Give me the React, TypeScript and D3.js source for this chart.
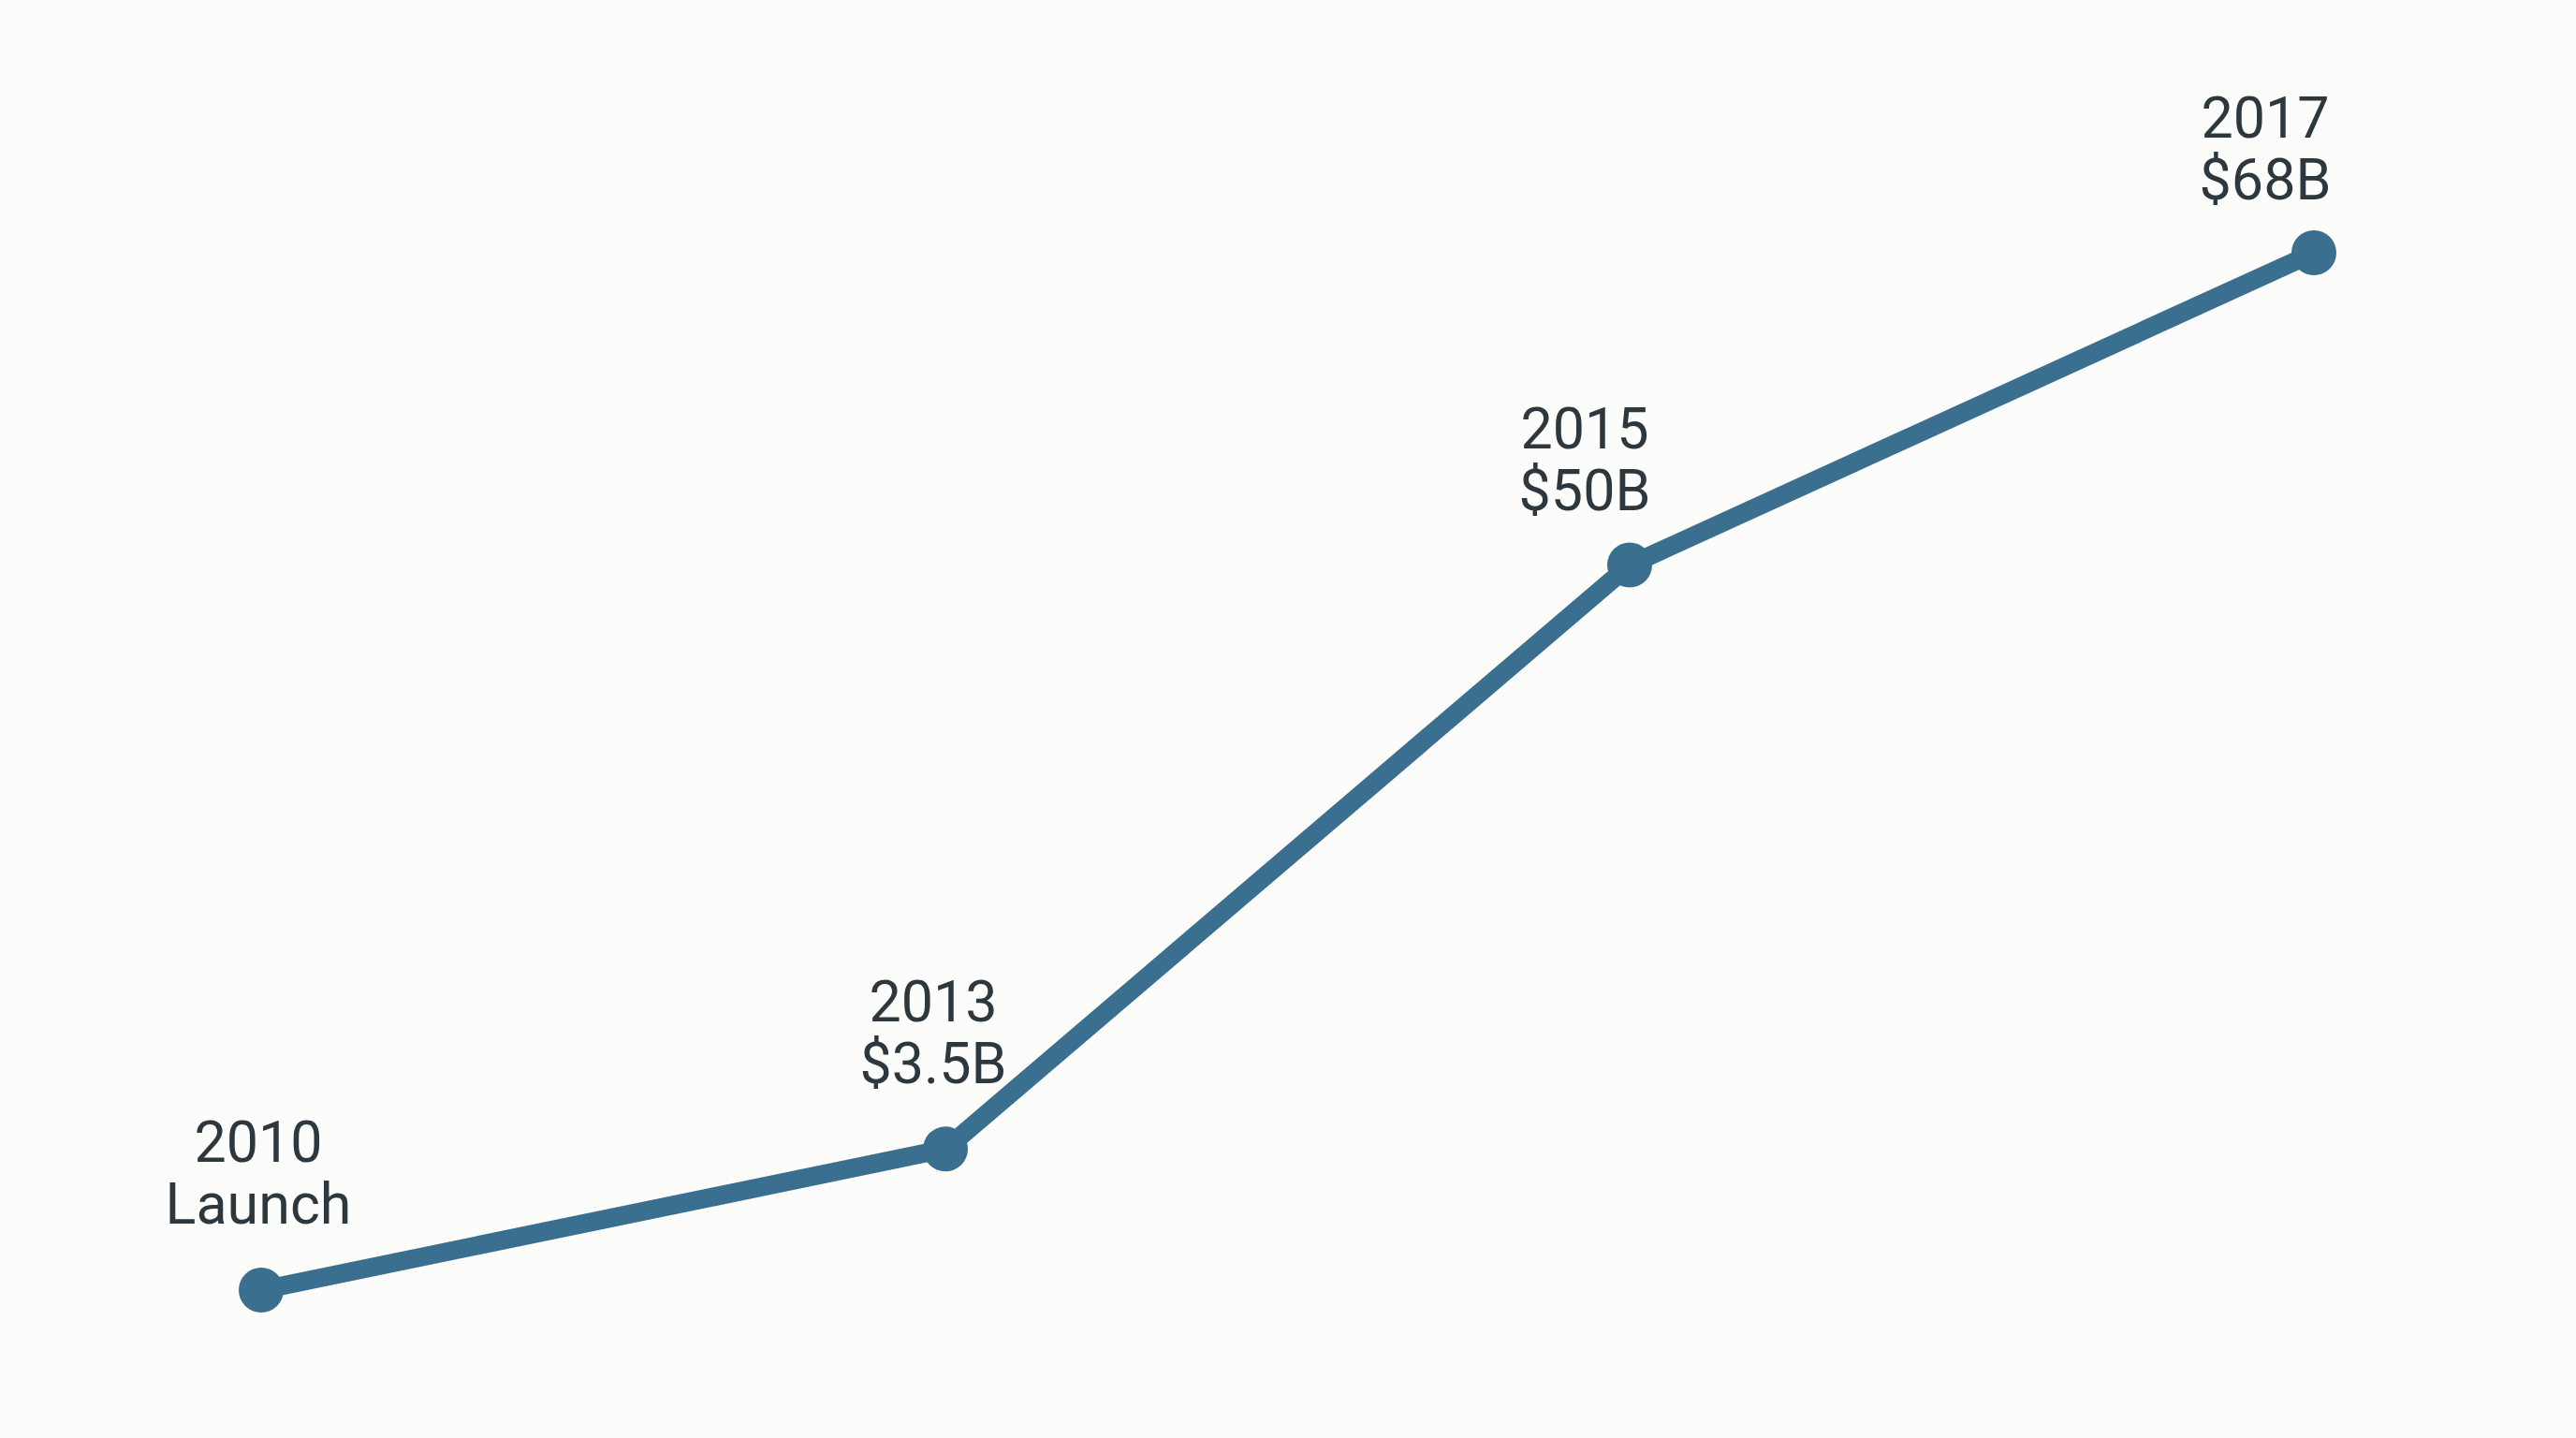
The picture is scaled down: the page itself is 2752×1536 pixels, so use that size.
import React from "react";
import * as d3 from "d3";

const years = ["2010", "2013", "2015", "2017"];
const valueLabels = ["Launch", "$3.5B", "$50B", "$68B"];
// plotted height of each point (0 = lowest, 100 = highest)
const levels = [0, 13.6, 69.9, 100];
// label placement tweaks (layout only)
const labelDx = [-3, -13, -48, -52];
const labelDy = [-71, -70, -59, -57];

const W = 2752;
const H = 1536;

export default function App() {
  const x = d3.scalePoint<string>().domain(years).range([279, 2472]);
  const y = d3.scaleLinear().domain([0, 100]).range([1378, 270]);
  const pts = years.map((yr, i) => ({ yr, v: levels[i], label: valueLabels[i], i }));
  const line = d3
    .line<(typeof pts)[number]>()
    .x((d) => x(d.yr) as number)
    .y((d) => y(d.v));
  const color = "#3b6f8f";
  const textColor = "#2c373e";
  return (
    <svg
      width={W}
      height={H}
      style={{ position: "fixed", left: 0, top: 0, background: "#fcfcfa" }}
    >
      <rect x={0} y={0} width={W} height={H} fill="#fcfcfa" />
      <path d={line(pts) || ""} fill="none" stroke={color} strokeWidth={20} strokeLinejoin="round" strokeLinecap="round" />
      {pts.map((d) => (
        <circle key={d.yr} cx={x(d.yr)} cy={y(d.v)} r={24} fill={color} />
      ))}
      {pts.map((d) => {
        const cx = (x(d.yr) as number) + labelDx[d.i];
        const base = y(d.v) + labelDy[d.i];
        return (
          <g key={"l" + d.yr} fontFamily="Roboto, 'Noto Sans', sans-serif" fontSize={61} fill={textColor} textAnchor="middle">
            <text x={cx} y={base - 66}>{d.yr}</text>
            <text x={cx} y={base}>{d.label}</text>
          </g>
        );
      })}
    </svg>
  );
}
